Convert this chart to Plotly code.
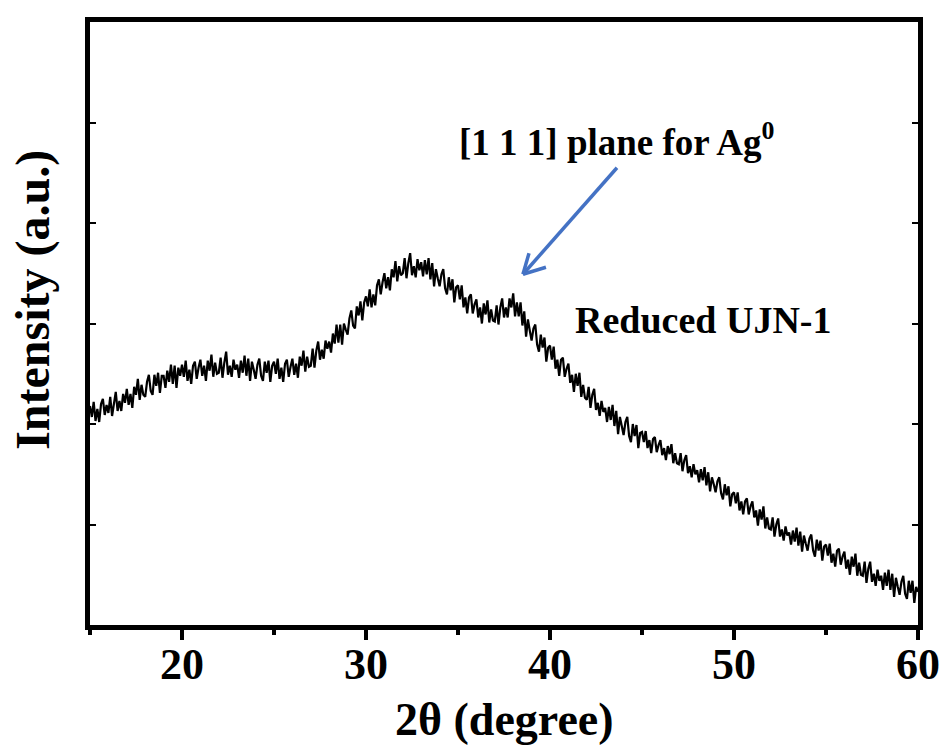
import plotly.graph_objects as go

# 2-theta scan: 15.0 .. 60.0 deg, 0.1 deg step (one row per degree)
scan_start = 15.0
scan_step = 0.1

intensity_rows = [
    [2.18, 2.07, 2.22, 2.03, 2.15, 2.02, 2.20, 2.25, 2.09, 2.19],  # 15
    [2.11, 2.27, 2.08, 2.23, 2.32, 2.13, 2.23, 2.13, 2.30, 2.21],  # 16
    [2.35, 2.19, 2.30, 2.16, 2.37, 2.29, 2.45, 2.24, 2.39, 2.29],  # 17
    [2.27, 2.42, 2.49, 2.33, 2.29, 2.49, 2.38, 2.51, 2.31, 2.48],  # 18
    [2.48, 2.36, 2.53, 2.42, 2.59, 2.40, 2.58, 2.36, 2.56, 2.48],  # 19
    [2.59, 2.47, 2.63, 2.43, 2.54, 2.40, 2.58, 2.62, 2.45, 2.56],  # 20
    [2.64, 2.48, 2.58, 2.43, 2.63, 2.53, 2.69, 2.47, 2.61, 2.50],  # 21
    [2.51, 2.66, 2.46, 2.61, 2.72, 2.49, 2.58, 2.47, 2.64, 2.54],  # 22
    [2.59, 2.46, 2.63, 2.51, 2.68, 2.48, 2.65, 2.43, 2.62, 2.54],  # 23
    [2.45, 2.59, 2.65, 2.48, 2.43, 2.62, 2.51, 2.63, 2.42, 2.58],  # 24
    [2.62, 2.50, 2.65, 2.45, 2.56, 2.42, 2.60, 2.64, 2.47, 2.57],  # 25
    [2.65, 2.49, 2.60, 2.46, 2.67, 2.58, 2.73, 2.52, 2.67, 2.57],  # 26
    [2.58, 2.75, 2.56, 2.73, 2.82, 2.64, 2.74, 2.65, 2.83, 2.75],  # 27
    [2.82, 2.71, 2.90, 2.80, 2.99, 2.81, 2.99, 2.79, 3.00, 2.94],  # 28
    [2.89, 3.05, 3.13, 2.98, 2.95, 3.17, 3.08, 3.22, 3.03, 3.21],  # 29
    [3.27, 3.17, 3.34, 3.16, 3.29, 3.18, 3.38, 3.44, 3.29, 3.41],  # 30
    [3.50, 3.35, 3.46, 3.33, 3.54, 3.46, 3.62, 3.42, 3.57, 3.48],  # 31
    [3.50, 3.65, 3.45, 3.60, 3.70, 3.48, 3.57, 3.46, 3.64, 3.53],  # 32
    [3.61, 3.47, 3.63, 3.49, 3.65, 3.44, 3.60, 3.37, 3.54, 3.45],  # 33
    [3.37, 3.49, 3.54, 3.35, 3.29, 3.46, 3.33, 3.44, 3.21, 3.36],  # 34
    [3.38, 3.24, 3.38, 3.16, 3.26, 3.10, 3.26, 3.29, 3.10, 3.19],  # 35
    [3.24, 3.06, 3.16, 3.00, 3.20, 3.09, 3.23, 3.01, 3.14, 3.03],  # 36
    [3.02, 3.18, 2.99, 3.16, 3.25, 3.06, 3.16, 3.06, 3.25, 3.16],  # 37
    [3.30, 3.07, 3.21, 3.07, 3.21, 2.98, 3.12, 2.87, 3.04, 2.93],  # 38
    [2.83, 2.95, 2.99, 2.79, 2.72, 2.89, 2.76, 2.86, 2.62, 2.76],  # 39
    [2.78, 2.64, 2.77, 2.55, 2.64, 2.48, 2.64, 2.66, 2.47, 2.55],  # 40
    [2.60, 2.41, 2.49, 2.32, 2.50, 2.38, 2.51, 2.27, 2.39, 2.26],  # 41
    [2.24, 2.37, 2.16, 2.29, 2.35, 2.14, 2.21, 2.08, 2.23, 2.12],  # 42
    [2.16, 2.02, 2.17, 2.04, 2.19, 1.98, 2.13, 1.90, 2.07, 1.98],  # 43
    [1.89, 2.02, 2.07, 1.88, 1.82, 2.00, 1.88, 1.99, 1.76, 1.91],  # 44
    [1.92, 1.82, 1.93, 1.76, 1.84, 1.71, 1.85, 1.87, 1.72, 1.79],  # 45
    [1.84, 1.69, 1.76, 1.64, 1.78, 1.70, 1.80, 1.61, 1.71, 1.61],  # 46
    [1.60, 1.71, 1.53, 1.64, 1.69, 1.51, 1.58, 1.47, 1.60, 1.50],  # 47
    [1.54, 1.42, 1.55, 1.44, 1.57, 1.39, 1.52, 1.33, 1.47, 1.40],  # 48
    [1.32, 1.43, 1.47, 1.31, 1.25, 1.40, 1.29, 1.38, 1.18, 1.30],  # 49
    [1.32, 1.21, 1.32, 1.14, 1.23, 1.10, 1.23, 1.26, 1.10, 1.18],  # 50
    [1.23, 1.07, 1.14, 0.99, 1.15, 1.05, 1.18, 0.96, 1.07, 0.96],  # 51
    [0.95, 1.07, 0.88, 1.00, 1.06, 0.88, 0.95, 0.84, 0.98, 0.89],  # 52
    [0.92, 0.80, 0.94, 0.83, 0.97, 0.79, 0.93, 0.73, 0.89, 0.81],  # 53
    [0.74, 0.86, 0.90, 0.74, 0.68, 0.85, 0.74, 0.84, 0.64, 0.78],  # 54
    [0.80, 0.69, 0.81, 0.62, 0.71, 0.58, 0.74, 0.76, 0.60, 0.68],  # 55
    [0.73, 0.56, 0.65, 0.50, 0.68, 0.58, 0.71, 0.49, 0.62, 0.50],  # 56
    [0.49, 0.63, 0.42, 0.56, 0.63, 0.43, 0.51, 0.39, 0.55, 0.44],  # 57
    [0.49, 0.35, 0.52, 0.39, 0.55, 0.35, 0.51, 0.28, 0.47, 0.38],  # 58
    [0.30, 0.43, 0.49, 0.31, 0.26, 0.44, 0.32, 0.44, 0.22, 0.38],  # 59
    [0.33],                                                        # 60
]

x_tick_vals = [20, 30, 40, 50, 60]
x_tick_text = ["20", "30", "40", "50", "60"]
x_minor_vals = [15, 25, 35, 45, 55]
y_tick_vals = [1, 2, 3, 4, 5]

intensity = [v for row in intensity_rows for v in row]
two_theta = [round(scan_start + scan_step * i, 1) for i in range(len(intensity))]

FONT = "Liberation Serif"
BLUE = "#4472C4"

fig = go.Figure()
fig.add_trace(go.Scatter(
    x=two_theta, y=intensity, mode="lines",
    line=dict(color="black", width=2.2),
    showlegend=False, hoverinfo="skip",
))

# arrow (annotation geometry, data coordinates)
arrow_tail = (43.64, 4.55)
arrow_tip = (38.53, 3.49)
wing_a = (39.78, 3.56)
wing_b = (38.86, 3.70)
for (x0, y0), (x1, y1) in [(arrow_tail, arrow_tip), (wing_a, arrow_tip), (wing_b, arrow_tip)]:
    fig.add_shape(type="line", xref="x", yref="y", x0=x0, y0=y0, x1=x1, y1=y1,
                  line=dict(color=BLUE, width=3.5))

fig.add_annotation(x=43.6, y=4.83, xref="x", yref="y", showarrow=False,
                   text="[1 1 1] plane for Ag<sup>0</sup>",
                   font=dict(family=FONT, size=37, color="black", weight="bold"))
fig.add_annotation(x=48.3, y=3.03, xref="x", yref="y", showarrow=False,
                   text="Reduced UJN-1",
                   font=dict(family=FONT, size=38, color="black", weight="bold"))

# axis titles
fig.add_annotation(x=0.5, y=-0.156, xref="paper", yref="paper", showarrow=False,
                   text="2θ (degree)", xanchor="center", yanchor="middle",
                   font=dict(family=FONT, size=46, color="black", weight="bold"))
fig.add_annotation(x=-0.069, y=0.539, xref="paper", yref="paper", showarrow=False,
                   text="Intensity (a.u.)", textangle=-90, xanchor="center", yanchor="middle",
                   font=dict(family=FONT, size=48, color="black", weight="bold"))

fig.update_layout(
    width=946, height=752,
    margin=dict(l=90, r=28, t=22, b=127, autoexpand=False),
    paper_bgcolor="white", plot_bgcolor="white",
    showlegend=False,
    xaxis=dict(
        range=[15, 60], tickmode="array", tickvals=x_tick_vals, ticktext=x_tick_text,
        ticks="outside", ticklen=10, tickwidth=4, tickcolor="black",
        ticklabelstandoff=-14,
        minor=dict(tickmode="array", tickvals=x_minor_vals, ticks="outside",
                   ticklen=5, tickwidth=4, tickcolor="black"),
        showline=True, linewidth=5, linecolor="black", mirror=True,
        showgrid=False, zeroline=False, automargin=False,
        tickfont=dict(family=FONT, size=44, color="black", weight="bold"),
    ),
    yaxis=dict(
        range=[0, 6], tickmode="array", tickvals=y_tick_vals,
        ticks="inside", ticklen=6, tickwidth=2, tickcolor="black",
        showticklabels=False,
        showline=True, linewidth=5, linecolor="black", mirror="ticks",
        showgrid=False, zeroline=False, automargin=False,
    ),
)

fig.write_html("out.html")
